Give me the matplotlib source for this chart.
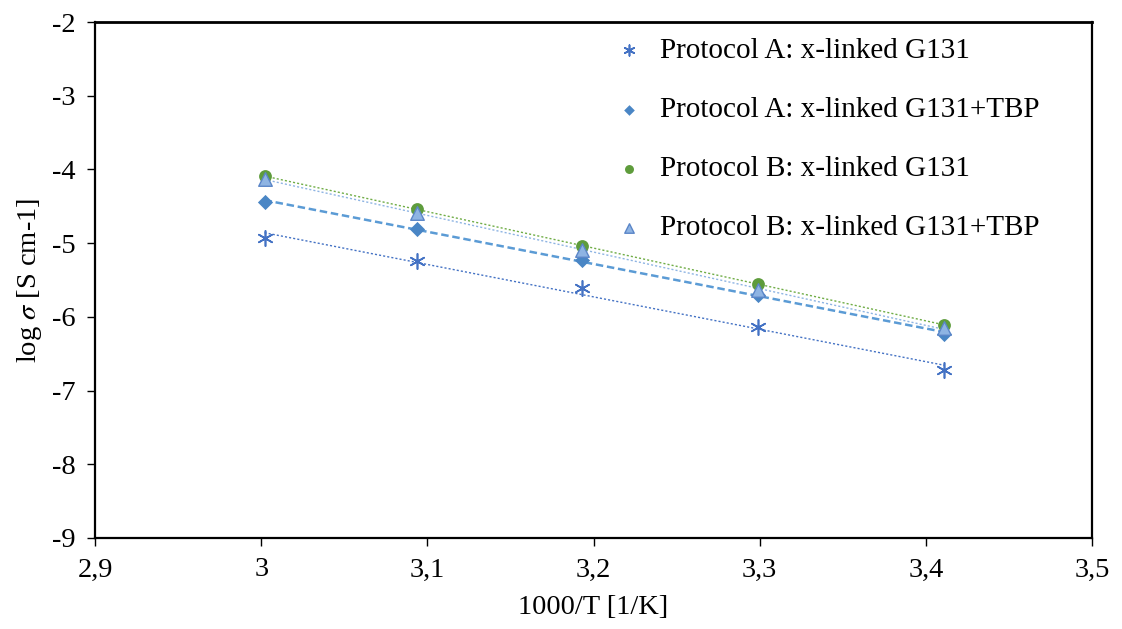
import matplotlib.pyplot as plt
import numpy as np
from matplotlib.ticker import FuncFormatter

plt.rcParams['font.family'] = ['Liberation Serif', 'DejaVu Serif']
plt.rcParams['mathtext.fontset'] = 'stix'

inv_t = [3.002, 3.094, 3.193, 3.299, 3.411]

a_g131 = [-4.93, -5.24, -5.61, -6.14, -6.72]
a_g131_tbp = [-4.44, -4.81, -5.23, -5.70, -6.23]
b_g131 = [-4.09, -4.54, -5.04, -5.55, -6.11]
b_g131_tbp = [-4.13, -4.59, -5.09, -5.64, -6.15]

labels = ['Protocol A: x-linked G131', 'Protocol A: x-linked G131+TBP',
          'Protocol B: x-linked G131', 'Protocol B: x-linked G131+TBP']

fs = 20.5

fig = plt.figure(figsize=(11.22, 6.29), dpi=100)
ax = fig.add_axes([0.0847, 0.1447, 0.8886, 0.8203])

x = np.array(inv_t)


def trend(y, color, ls, lw):
    k, b = np.polyfit(x, y, 1)
    ax.plot(x, k * x + b, color=color, ls=ls, lw=lw, zorder=1)


# trendlines
trend(a_g131, '#4472C4', (0, (1.5, 1.5)), 1.0)
trend(b_g131, '#70AD47', (0, (1.5, 1.5)), 1.0)
trend(a_g131_tbp, '#5B9BD5', (0, (3, 1.5)), 1.8)
trend(b_g131_tbp, '#8EB4E3', (0, (1.5, 1.5)), 1.0)

# points
ax.scatter(x, a_g131, marker=(6, 2, 0), s=120, color='#4472C4', lw=1.2,
           label=labels[0], zorder=3)
ax.scatter(x, a_g131_tbp, marker='D', s=60, color='#4A86C5', lw=0,
           label=labels[1], zorder=3)
ax.scatter(x, b_g131, marker='o', s=85, color='#5E9C3C', lw=0,
           label=labels[2], zorder=3)
ax.scatter(x, b_g131_tbp, marker='^', s=95, facecolor='#8EB4E3',
           edgecolor='#5B86C8', lw=1.0, label=labels[3], zorder=4)

ax.set_xlim(2.9, 3.5)
ax.set_ylim(-9, -2)
ax.set_xticks(np.arange(2.9, 3.51, 0.1))
ax.set_yticks(np.arange(-9, -1.9, 1))

fmt = FuncFormatter(lambda v, p: ('%g' % round(v, 1)).replace('.', ','))
ax.xaxis.set_major_formatter(fmt)
ax.yaxis.set_major_formatter(fmt)
ax.tick_params(direction='out', length=6, width=1, labelsize=fs, pad=8)

for s in ax.spines.values():
    s.set_linewidth(1.6)
ax.spines['top'].set_linewidth(2.0)

ax.set_xlabel('1000/T [1/K]', fontsize=fs, labelpad=9)
ax.set_ylabel(r'log $\sigma$ [S cm-1]', fontsize=fs, labelpad=6)

fig.legend(loc='upper left', bbox_to_anchor=(603 / 1122, 1 - 26 / 629),
           frameon=False, fontsize=21, labelspacing=1.12, handlelength=1.0,
           handletextpad=0.55, borderaxespad=0, scatterpoints=1,
           markerscale=0.7)

fig.savefig('out.png', dpi=100)
